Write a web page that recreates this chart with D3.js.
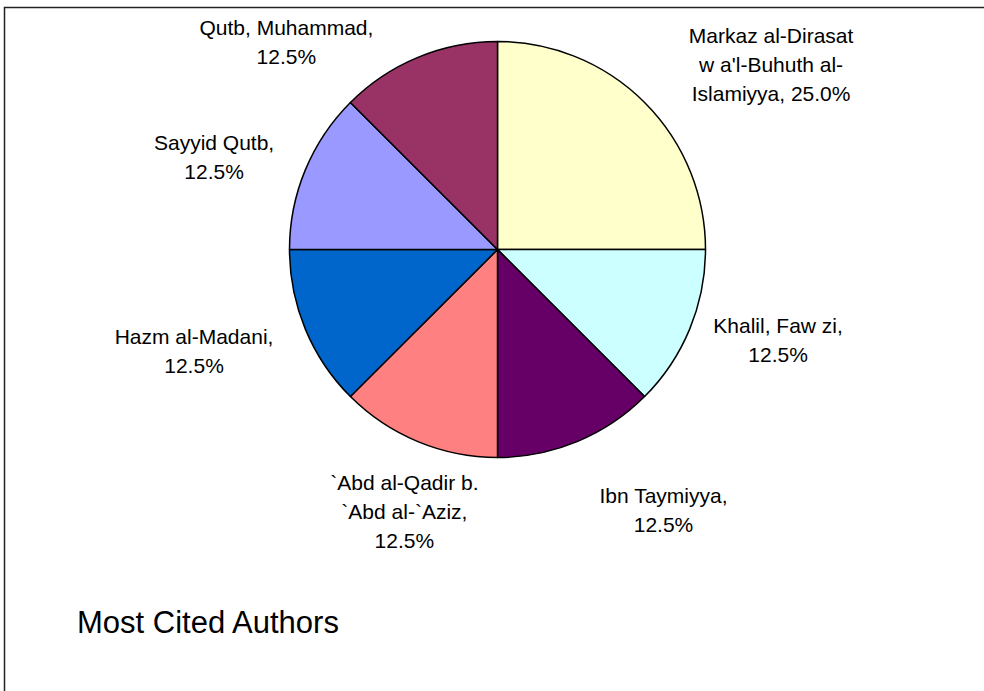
<!DOCTYPE html>
<html>
<head>
<meta charset="utf-8">
<script src="https://cdn.jsdelivr.net/npm/d3@7"></script>
<style>
  body { margin: 0; background: #fff; }
  svg { display: block; }
  text { font-family: "Liberation Sans", Arial, sans-serif; fill: #000; }
</style>
</head>
<body>
<svg id="chart" width="984" height="691"></svg>
<script>
// data, clockwise from 12 o'clock
const authors = [
    "Markaz al-Dirasat wa'l-Buhuth al-Islamiyya",
    "Khalil, Fawzi",
    "Ibn Taymiyya",
    "`Abd al-Qadir b. `Abd al-`Aziz",
    "Hazm al-Madani",
    "Sayyid Qutb",
    "Qutb, Muhammad"
];
const shares = [0.25, 0.125, 0.125, 0.125, 0.125, 0.125, 0.125];
const sliceColors = ["#FFFFCC", "#CCFFFF", "#660066", "#FF8080", "#0066CC", "#9999FF", "#993366"];
// label text as it is wrapped in the picture (percent is appended)
const labelLines = [
    ["Markaz al-Dirasat", "w a'l-Buhuth al-", "Islamiyya,"],
    ["Khalil, Faw zi,"],
    ["Ibn Taymiyya,"],
    ["`Abd al-Qadir b.", "`Abd al-`Aziz,"],
    ["Hazm al-Madani,"],
    ["Sayyid Qutb,"],
    ["Qutb, Muhammad,"]
];
const chartTitle = "Most Cited Authors";

// layout
const width = 984, height = 691;
const cx = 497.5, cy = 249.5, radius = 208;
const labelFont = 21, lineH = 29;
// where Excel left each label: angle shift from the slice middle (deg) and distance from centre
const labelShift = [11, -4.5, -10, -3, 4, -4.5, -23];
const labelDist = [330, 295, 309, 279, 320, 298, 296];

const svg = d3.select("#chart");

// chart frame (only top and left edges fall inside the picture)
svg.append("rect")
    .attr("x", 4.5).attr("y", 7.5)
    .attr("width", 1000).attr("height", 700)
    .attr("fill", "none")
    .attr("stroke", "#222")
    .attr("stroke-width", 1.5);

const data = authors.map((a, i) => ({ author: a, share: shares[i], color: sliceColors[i], lines: labelLines[i], idx: i }));

const pie = d3.pie().sort(null).value(d => d.share);
const arc = d3.arc().innerRadius(0).outerRadius(radius);
const arcs = pie(data);

const g = svg.append("g").attr("transform", `translate(${cx},${cy})`);

g.selectAll("path.slice")
    .data(arcs)
    .enter()
    .append("path")
    .attr("class", "slice")
    .attr("d", arc)
    .attr("fill", d => d.data.color)
    .attr("stroke", "#000")
    .attr("stroke-width", 1.5)
    .attr("stroke-linejoin", "round");

const pct = d3.format(".1%");

const labels = g.selectAll("text.label")
    .data(arcs)
    .enter()
    .append("text")
    .attr("class", "label")
    .attr("text-anchor", "middle")
    .style("font-size", labelFont + "px")
    .each(function (d) {
        const i = d.data.idx;
        const mid = (d.startAngle + d.endAngle) / 2 + labelShift[i] * Math.PI / 180;
        const px = Math.sin(mid) * labelDist[i];
        const py = -Math.cos(mid) * labelDist[i];
        const lines = d.data.lines.slice();
        const last = lines.length - 1;
        // percent goes on the same line as the last name chunk for the long one, else a new line
        if (lines.length === 3) lines[last] = lines[last] + " " + pct(d.data.share);
        else lines.push(pct(d.data.share));
        const n = lines.length;
        const t = d3.select(this);
        lines.forEach((ln, k) => {
            t.append("tspan")
                .attr("x", px)
                .attr("y", py + (k - (n - 1) / 2) * lineH + 7)
                .text(ln);
        });
    });

// title
svg.append("text")
    .attr("x", 77)
    .attr("y", 633)
    .style("font-size", "31px")
    .text(chartTitle);
</script>
</body>
</html>
